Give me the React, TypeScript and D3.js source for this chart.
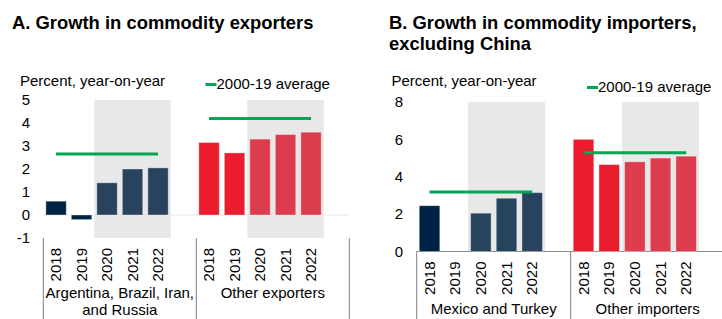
import * as d3 from "d3";
import { useEffect, useRef } from "react";

const years = ["2018", "2019", "2020", "2021", "2022"];
const forecastYears = ["2020", "2021", "2022"];

// Panel A: commodity exporters
const exportersGroups = ["Argentina, Brazil, Iran, and Russia", "Other exporters"];
const exportersLabelLines = [["Argentina, Brazil, Iran,", "and Russia"], ["Other exporters"]];
const exportersBig = [0.6, -0.2, 1.4, 2.0, 2.05];
const exportersOther = [3.15, 2.7, 3.3, 3.5, 3.6];
const exportersAvg = [2.65, 4.2];
const exportersTicks = [-1, 0, 1, 2, 3, 4, 5];

// Panel B: commodity importers excluding China
const importersGroups = ["Mexico and Turkey", "Other importers"];
const importersLabelLines = [["Mexico and Turkey"], ["Other importers"]];
const importersMexTur = [2.45, null, 2.05, 2.85, 3.15];
const importersOther = [6.0, 4.65, 4.8, 5.0, 5.1];
const importersAvg = [3.18, 5.28];
const importersTicks = [0, 2, 4, 6, 8];

const FONT = "'Liberation Sans', Arial, Helvetica, sans-serif";
const navy = ["#002345", "#27435d"];
const red = ["#eb1c2d", "#dc3c4c"];
const green = "#00a651";
const shade = "#e8e8e8";

type PanelCfg = {
  title: string[];
  groups: string[];
  labelLines: string[][];
  series: (number | null)[][];
  avg: number[];
  ticks: number[];
  domain: [number, number];
  yRange: [number, number];
  xRange: [number, number];
  tickX: number;
  unitX: number;
  legendX: number;
  legendY: number;
  labelY: number;
  zeroColor: string;
  sepTop: number;
};

function drawPanel(svg: any, cfg: PanelCfg, titleX: number) {
  const g = svg.append("g").attr("font-family", FONT);

  // slots: 5 years, gap, 5 years, gap
  const slots: string[] = [];
  cfg.groups.forEach((grp, i) => {
    years.forEach((yr) => slots.push(`${i}|${yr}`));
    slots.push(`${i}|gap`);
  });

  const x = d3
    .scaleBand()
    .domain(slots)
    .range(cfg.xRange)
    .paddingInner(0.2)
    .paddingOuter(0.1);
  const y = d3.scaleLinear().domain(cfg.domain).range(cfg.yRange);
  const step = x.step();
  const bw = x.bandwidth();

  // title
  cfg.title.forEach((t, i) => {
    g.append("text")
      .attr("x", titleX)
      .attr("y", 29 + i * 21)
      .attr("font-size", 18.4)
      .attr("font-weight", "bold")
      .attr("fill", "#000")
      .text(t);
  });

  // unit label and legend
  g.append("text")
    .attr("x", cfg.unitX)
    .attr("y", 86)
    .attr("font-size", 15)
    .attr("fill", "#000")
    .text("Percent, year-on-year");
  g.append("line")
    .attr("x1", cfg.legendX)
    .attr("x2", cfg.legendX + 11)
    .attr("y1", cfg.legendY - 4.5)
    .attr("y2", cfg.legendY - 4.5)
    .attr("stroke", green)
    .attr("stroke-width", 3);
  g.append("text")
    .attr("x", cfg.legendX + 11)
    .attr("y", cfg.legendY)
    .attr("font-size", 15)
    .attr("fill", "#000")
    .text("2000-19 average");

  // forecast shading
  cfg.groups.forEach((_, i) => {
    const x0 = (x(`${i}|2020`) as number) - (step - bw) / 2;
    const x1 = (x(`${i}|2022`) as number) + bw + (step - bw) / 2;
    g.append("rect")
      .attr("x", x0)
      .attr("y", y(cfg.domain[1]))
      .attr("width", x1 - x0)
      .attr("height", y(cfg.domain[0]) - y(cfg.domain[1]))
      .attr("fill", shade);
  });

  // zero line
  g.append("line")
    .attr("x1", cfg.xRange[0])
    .attr("x2", cfg.xRange[1])
    .attr("y1", y(0))
    .attr("y2", y(0))
    .attr("stroke", cfg.zeroColor)
    .attr("stroke-width", 1);

  // bars
  cfg.series.forEach((vals, i) => {
    const pal = i === 0 ? navy : red;
    g.append("g")
      .selectAll("rect")
      .data(vals.map((v, j) => ({ v, yr: years[j] })).filter((d) => d.v !== null))
      .join("rect")
      .attr("x", (d: any) => x(`${i}|${d.yr}`))
      .attr("y", (d: any) => y(Math.max(0, d.v)))
      .attr("width", bw)
      .attr("height", (d: any) => Math.abs(y(d.v) - y(0)))
      .attr("fill", (d: any) => (forecastYears.includes(d.yr) ? pal[1] : pal[0]))
      .attr("stroke", "#ffffff")
      .attr("stroke-opacity", 0.35)
      .attr("stroke-width", 1);
  });

  // average lines
  cfg.avg.forEach((a, i) => {
    g.append("line")
      .attr("x1", (x(`${i}|2018`) as number) + bw / 2)
      .attr("x2", (x(`${i}|2022`) as number) + bw / 2)
      .attr("y1", y(a))
      .attr("y2", y(a))
      .attr("stroke", green)
      .attr("stroke-width", 3);
  });

  // y tick labels
  g.append("g")
    .selectAll("text")
    .data(cfg.ticks)
    .join("text")
    .attr("x", cfg.tickX)
    .attr("y", (d: number) => y(d))
    .attr("dy", "0.35em")
    .attr("text-anchor", "end")
    .attr("font-size", 15)
    .attr("fill", "#000")
    .text((d: number) => d);

  // group separators
  const seps = cfg.groups.map((_, i) => (x(`${i}|2018`) as number) - (step - bw) / 2);
  seps.push(cfg.xRange[1]);
  seps.forEach((sx) => {
    g.append("line")
      .attr("x1", sx)
      .attr("x2", sx)
      .attr("y1", cfg.sepTop)
      .attr("y2", 319)
      .attr("stroke", "#7f7f7f")
      .attr("stroke-width", 1);
  });

  // year labels
  cfg.groups.forEach((_, i) => {
    years.forEach((yr) => {
      const cx = (x(`${i}|${yr}`) as number) + bw / 2;
      g.append("text")
        .attr("transform", `translate(${cx},${cfg.sepTop + 10}) rotate(-90)`)
        .attr("dy", "0.35em")
        .attr("text-anchor", "end")
        .attr("font-size", 15)
        .attr("fill", "#000")
        .text(yr);
    });
  });

  // group labels
  cfg.labelLines.forEach((lines, i) => {
    const cx = (seps[i] + seps[i + 1]) / 2;
    lines.forEach((ln, k) => {
      g.append("text")
        .attr("x", cx)
        .attr("y", cfg.labelY + k * 16.9)
        .attr("text-anchor", "middle")
        .attr("font-size", 15)
        .attr("fill", "#000")
        .text(ln);
    });
  });
}

export default function App() {
  const containerRef = useRef<HTMLDivElement>(null);

  useEffect(() => {
    const empty = d3.select(containerRef.current).select("svg").empty();
    if (!empty) {
      return;
    }

    const width = 722;
    const height = 319;

    const svg = d3
      .select(containerRef.current)
      .append("svg")
      .attr("width", width)
      .attr("height", height)
      .attr("viewBox", [0, 0, width, height])
      .style("display", "block")
      .style("background", "#fff");

    drawPanel(
      svg,
      {
        title: ["A. Growth in commodity exporters"],
        groups: exportersGroups,
        labelLines: exportersLabelLines,
        series: [exportersBig, exportersOther],
        avg: exportersAvg,
        ticks: exportersTicks,
        domain: [-1, 5],
        yRange: [238, 100],
        xRange: [43.3, 349.3],
        tickX: 30,
        unitX: 20,
        legendX: 205.5,
        legendY: 89,
        labelY: 298.3,
        zeroColor: "#e6e6e6",
        sepTop: 238,
      },
      12,
    );

    drawPanel(
      svg,
      {
        title: ["B. Growth in commodity importers,", "excluding China"],
        groups: importersGroups,
        labelLines: importersLabelLines,
        series: [importersMexTur, importersOther],
        avg: importersAvg,
        ticks: importersTicks,
        domain: [0, 8],
        yRange: [251.5, 102],
        xRange: [416.7, 724.7],
        tickX: 403,
        unitX: 391.5,
        legendX: 587,
        legendY: 92,
        labelY: 314,
        zeroColor: "#8c8c8c",
        sepTop: 251.5,
      },
      389,
    );
  }, []);

  return (
    <div
      ref={containerRef}
      style={{ position: "absolute", left: 0, top: 0, width: 722, height: 319 }}
    />
  );
}
